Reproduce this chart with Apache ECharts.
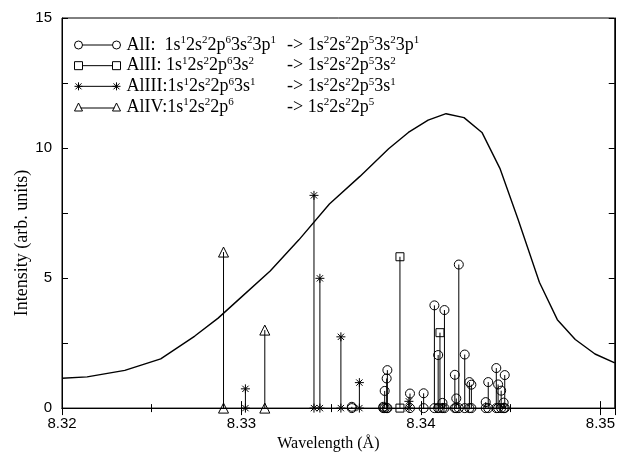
<!DOCTYPE html>
<html>
<head>
    <meta charset="UTF-8">
    <title>Al satellite lines</title>
    <script src="https://cdn.jsdelivr.net/npm/echarts@6/dist/echarts.min.js"></script>
</head>
<body style="margin: 0">
    <div id="container" style="width: 618px; height: 457px"></div>
    <script type="text/javascript">
        // measured envelope
        var curveWl = [8.3200, 8.3214, 8.3235, 8.3255, 8.3274, 8.3287, 8.3299, 8.3316, 8.3332, 8.3349,
            8.3366, 8.3382, 8.3393, 8.3404, 8.3414, 8.3424, 8.3434, 8.3444, 8.3454, 8.3466,
            8.3476, 8.3486, 8.3497, 8.3508];
        var curveInt = [1.15, 1.20, 1.45, 1.89, 2.77, 3.46, 4.21, 5.27, 6.47, 7.85,
            8.91, 9.97, 10.6, 11.07, 11.32, 11.17, 10.6, 9.22, 7.28, 4.84,
            3.40, 2.64, 2.08, 1.74];

        // AlI lines (circles)
        var alIWl = [8.33615, 8.33790, 8.33798, 8.33809, 8.33813, 8.33939, 8.34015, 8.34075, 8.34096, 8.34120,
            8.34131, 8.34189, 8.34197, 8.34211, 8.34244, 8.34270, 8.34281, 8.34361, 8.34375, 8.34420,
            8.34430, 8.34447, 8.34461, 8.34467];
        var alIInt = [0.05, 0.05, 0.66, 1.14, 1.46, 0.56, 0.57, 3.95, 2.04, 0.20,
            3.77, 1.28, 0.37, 5.52, 2.06, 1.00, 0.90, 0.23, 1.00, 1.54,
            0.91, 0.67, 0.21, 1.27];
        // AlII lines (squares)
        var alIIWl = [8.33883, 8.34106];
        var alIIInt = [5.82, 2.90];
        // AlIII lines (asterisks)
        var alIIIWl = [8.33022, 8.33404, 8.33437, 8.33554, 8.33657, 8.33933];
        var alIIIInt = [0.74, 8.18, 4.99, 2.74, 0.98, 0.26];
        // AlIV lines (triangles)
        var alIVWl = [8.32900, 8.33130];
        var alIVInt = [6.00, 3.00];

        var names = ['AlI', 'AlII', 'AlIII', 'AlIV'];
        var leftLabels = [
            'AlI:  1s{s|1}2s{s|2}2p{s|6}3s{s|2}3p{s|1}',
            'AlII: 1s{s|1}2s{s|2}2p{s|6}3s{s|2}',
            'AlIII:1s{s|1}2s{s|2}2p{s|6}3s{s|1}',
            'AlIV:1s{s|1}2s{s|2}2p{s|6}'
        ];
        var rightLabels = [
            '-> 1s{s|2}2s{s|2}2p{s|5}3s{s|2}3p{s|1}',
            '-> 1s{s|2}2s{s|2}2p{s|5}3s{s|2}',
            '-> 1s{s|2}2s{s|2}2p{s|5}3s{s|1}',
            '-> 1s{s|2}2s{s|2}2p{s|5}'
        ];

        var asterisk = 'path://M5,0L5,10M0,5L10,5M1.5,1.5L8.5,8.5M1.5,8.5L8.5,1.5';
        var symbols = ['circle', 'rect', asterisk, 'triangle'];
        var symbolSizes = [9, 8, 9, 10];
        var legendIcons = [
            'path://M1,5a4,4 0 1,0 8,0a4,4 0 1,0 -8,0M9,5L39,5M39,5a4,4 0 1,0 8,0a4,4 0 1,0 -8,0',
            'path://M1,1h8v8h-8zM9,5L39,5M39,1h8v8h-8z',
            'path://M5,1L5,9M1,5L9,5M2,2L8,8M2,8L8,2M5,5L43,5M43,1L43,9M39,5L47,5M40,2L46,8M40,8L46,2',
            'path://M5,1L9,9L1,9zM7,6L41,6M43,1L47,9L39,9z'
        ];

        function stems(wl, val) {
            var d = [];
            wl.forEach(function (w, i) {
                d.push([w, 0], [w, val[i]], [w, '-']);
            });
            return d;
        }

        var lineSets = [[alIWl, alIInt], [alIIWl, alIIInt], [alIIIWl, alIIIInt], [alIVWl, alIVInt]];

        var serif = 'Liberation Serif';
        var sup = { fontSize: 11, fontFamily: serif, color: '#000', verticalAlign: 'top', lineHeight: 12 };
        var rowTop = 35, rowH = 20, rowGap = 0.67;

        var series = lineSets.map(function (s, i) {
            return {
                name: names[i],
                type: 'line',
                data: stems(s[0], s[1]),
                symbol: symbols[i],
                symbolSize: symbolSizes[i],
                showAllSymbol: true,
                connectNulls: false,
                itemStyle: { color: 'rgba(0,0,0,0)', borderColor: '#000', borderWidth: 1 },
                lineStyle: { color: '#000', width: 1 },
                z: 3
            };
        });
        series.push({
            name: 'envelope',
            type: 'line',
            data: curveWl.map(function (w, i) { return [w, curveInt[i]]; }),
            symbol: 'none',
            lineStyle: { color: '#000', width: 1.4 },
            z: 2
        });

        var graphics = rightLabels.map(function (t, i) {
            return {
                type: 'text',
                x: 287,
                y: rowTop + rowH / 2 + i * (rowH + rowGap),
                style: {
                    text: t,
                    fontFamily: serif,
                    fontSize: 18,
                    lineHeight: rowH,
                    fill: '#000',
                    align: 'left',
                    verticalAlign: 'middle',
                    rich: { s: sup }
                }
            };
        });
        graphics.push({
            type: 'text',
            x: 22,
            y: 243,
            rotation: Math.PI / 2,
            style: {
                text: 'Intensity (arb. units)',
                fontFamily: serif,
                fontSize: 18,
                fill: '#000',
                align: 'center',
                verticalAlign: 'middle'
            }
        });

        var axisFont = { fontFamily: 'Liberation Sans', fontSize: 15, color: '#000' };

        var myChart = echarts.init(document.getElementById('container'));
        var option = {
            animation: false,
            backgroundColor: '#fff',
            grid: { left: 62, right: 1, top: 18, bottom: 40, show: true, borderColor: '#000', borderWidth: 1 },
            legend: {
                left: 74,
                top: rowTop,
                padding: 0,
                orient: 'vertical',
                itemWidth: 48,
                itemHeight: 8,
                itemGap: rowGap,
                selectedMode: false,
                data: names.map(function (n, i) {
                    return { name: n, icon: legendIcons[i] };
                }),
                itemStyle: { color: 'rgba(0,0,0,0)', borderColor: '#000', borderWidth: 1 },
                formatter: function (n) {
                    return leftLabels[names.indexOf(n)];
                },
                textStyle: {
                    fontFamily: serif,
                    fontSize: 18,
                    color: '#000',
                    lineHeight: rowH,
                    rich: { s: sup }
                }
            },
            graphic: graphics,
            xAxis: [{
                type: 'value',
                min: 8.32,
                max: 8.3508,
                interval: 0.01,
                name: 'Wavelength (Å)',
                nameLocation: 'middle',
                nameGap: 27,
                nameTextStyle: { fontFamily: serif, fontSize: 16, color: '#000', padding: [0, 20, 0, 0] },
                axisLine: { lineStyle: { color: '#000' } },
                axisTick: { inside: true, length: 7, lineStyle: { color: '#000' } },
                minorTick: { show: true, splitNumber: 2, length: 4, lineStyle: { color: '#000' } },
                axisLabel: Object.assign({ margin: 8, showMaxLabel: false }, axisFont),
                splitLine: { show: false }
            }, {
                type: 'value',
                position: 'top',
                min: 8.32,
                max: 8.3508,
                interval: 0.01,
                axisLine: { lineStyle: { color: '#000' } },
                axisTick: { inside: true, length: 7, lineStyle: { color: '#000' } },
                minorTick: { show: true, splitNumber: 2, length: 4, lineStyle: { color: '#000' } },
                axisLabel: { show: false },
                splitLine: { show: false }
            }],
            yAxis: [{
                type: 'value',
                min: 0,
                max: 15,
                interval: 2.5,
                axisLine: { show: true, lineStyle: { color: '#000' } },
                axisTick: { show: true, inside: true, length: 6, lineStyle: { color: '#000' } },
                axisLabel: Object.assign({
                    margin: 10,
                    formatter: function (v) { return v % 5 === 0 ? String(v) : ''; }
                }, axisFont),
                splitLine: { show: false }
            }, {
                type: 'value',
                position: 'right',
                min: 0,
                max: 15,
                interval: 2.5,
                axisLine: { show: true, lineStyle: { color: '#000' } },
                axisTick: { show: true, inside: true, length: 6, lineStyle: { color: '#000' } },
                axisLabel: { show: false },
                splitLine: { show: false }
            }],
            series: series
        };
        myChart.setOption(option);
    </script>
</body>
</html>
